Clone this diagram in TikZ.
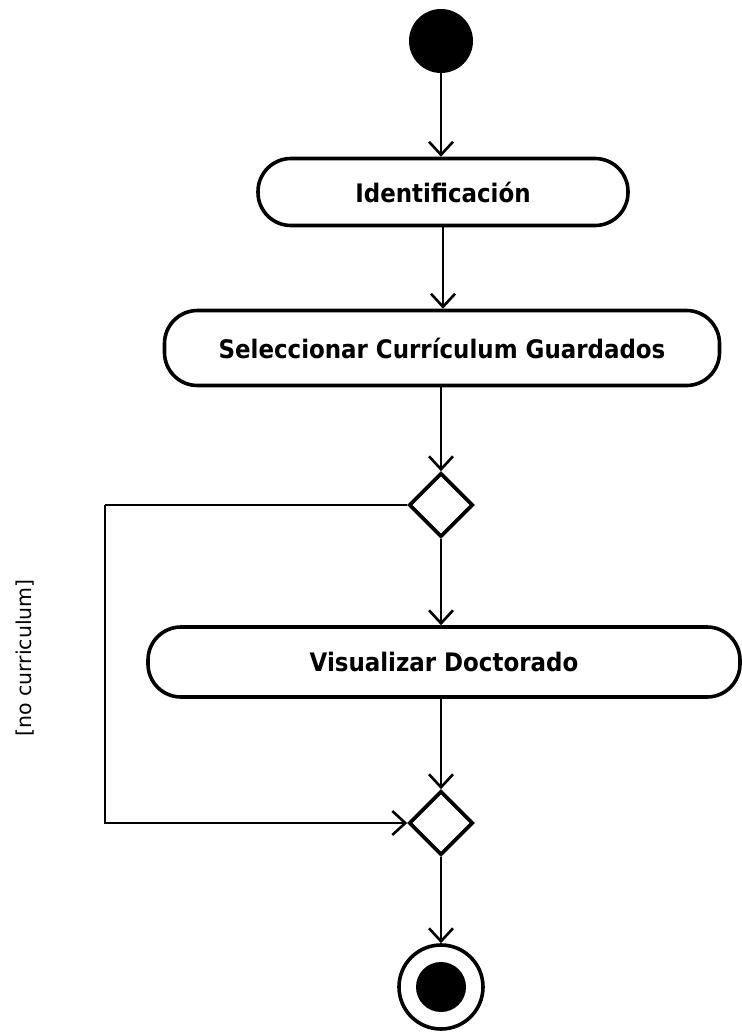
\documentclass[tikz,border=0pt]{standalone}
\usepackage{fontspec}
\setmainfont{DejaVu Sans}
\newfontfamily\boxfont{DejaVu Sans Condensed}[BoldFont={DejaVu Sans Condensed Bold}]
\usetikzlibrary{shapes.geometric,arrows.meta}
\begin{document}
\begin{tikzpicture}[x=1pt,y=-1pt,
  action/.style={draw,line width=3.6pt,rounded corners=33pt,minimum height=#1,font=\boxfont\bfseries\fontsize{25.5}{28}\selectfont,inner sep=0pt},
  decision/.style={draw,diamond,line width=3.6pt,minimum width=64pt,minimum height=64pt,inner sep=0pt,aspect=1},
  flow/.style={line width=2.6pt,-{Straight Barb[length=13pt,width=24pt,line width=2.6pt]}},
  plain/.style={line width=2.6pt}]
\useasboundingbox (0,0) rectangle (742,1034);
\node[circle,fill,minimum size=64pt,inner sep=0pt] (start) at (441,41) {};
\node[action=67pt,minimum width=370pt] (n1) at (443,192) {Identificación};
\node[action=75pt,minimum width=555pt] (n2) at (442,348) {Seleccionar Currículum Guardados};
\node[decision] (d1) at (441,505) {};
\node[action=70pt,minimum width=592pt] (n3) at (444,662) {Visualizar Doctorado};
\node[decision] (d2) at (441,823) {};
\node[circle,draw,line width=3.6pt,minimum size=84pt,inner sep=0pt] (end) at (441,987) {};
\node[circle,fill,minimum size=50pt,inner sep=0pt] (endin) at (441,987) {};
\coordinate (lc) at (105,505);
\node[rotate=90,font=\fontsize{20.5}{24}\selectfont] (lbl) at (25,658) {[no curriculum]};
\draw[flow] (start) -- (start |- n1.north);
\draw[flow] (n1) -- (n1.south |- n2.north);
\draw[flow] (n2.south -| d1) -- (d1.north);
\draw[flow] (d1) -- (d1 |- n3.north);
\draw[flow] (n3.south -| d2) -- (d2.north);
\draw[flow] (d2) -- (end);
\draw[plain] (d1.west) -- (lc);
\draw[flow] (lc) |- (d2.west);
\end{tikzpicture}
\end{document}
